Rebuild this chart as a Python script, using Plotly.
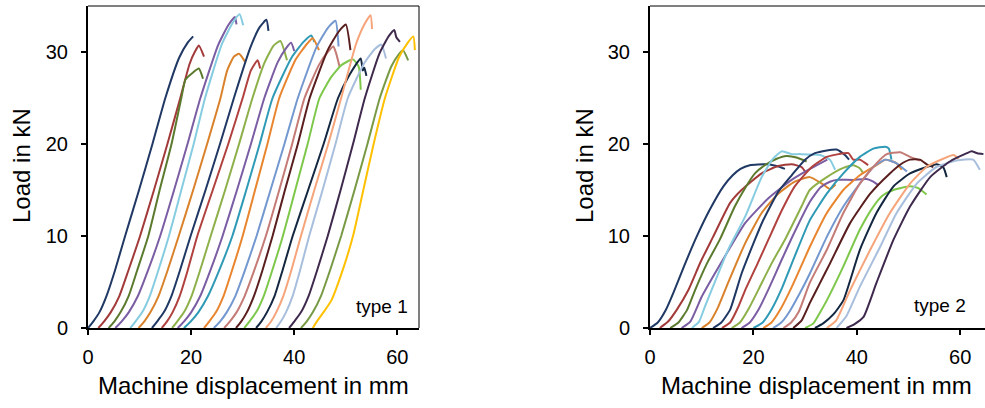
import plotly.graph_objects as go

# Load-displacement curves of the two specimen types.
# Each inner list is one test: machine displacement (mm) and load (kN).
type1_disp = [
    [0, 1.0, 2.2, 3.6, 5.2, 7.2, 9.9, 12.5, 15.0, 17.7, 19.3, 20.4],
    [2.0, 3.1, 4.4, 6.1, 7.8, 10.1, 12.8, 15.4, 17.9, 19.7, 20.8, 21.5, 22.5],
    [4.0, 5.1, 6.3, 7.9, 9.5, 11.7, 13.9, 16.2, 18.1, 18.9, 20.2, 21.5, 22.3],
    [5.3, 6.5, 7.9, 9.7, 11.6, 14.0, 16.7, 19.3, 21.8, 25.2, 27.2, 28.5, 28.8],
    [8.2, 9.2, 10.5, 12.0, 13.6, 15.7, 18.1, 20.5, 22.7, 26.0, 28.1, 29.4, 30.1],
    [9.8, 10.9, 12.1, 13.7, 15.4, 17.6, 20.4, 23.1, 25.7, 27.0, 28.3, 29.3, 30.5],
    [12.4, 13.4, 14.7, 16.2, 17.8, 19.9, 22.8, 25.6, 28.3, 31.5, 33.3, 34.6, 35.0],
    [14.3, 15.3, 16.4, 17.8, 19.3, 21.2, 24.2, 27.2, 30.0, 31.6, 32.9, 33.4],
    [16.3, 17.3, 18.6, 20.1, 21.7, 23.8, 26.6, 29.3, 31.9, 34.2, 36.0, 37.3, 38.6],
    [17.4, 18.6, 20.0, 21.8, 23.7, 26.1, 28.9, 31.6, 34.2, 36.8, 38.4, 39.4, 40.0],
    [18.6, 19.9, 21.4, 23.3, 25.4, 28.0, 30.7, 33.3, 35.8, 39.5, 41.8, 43.3, 43.9],
    [22.5, 23.5, 24.8, 26.3, 27.9, 30.0, 32.4, 34.8, 37.1, 40.3, 42.5, 43.6, 44.8],
    [24.4, 25.6, 26.9, 28.6, 30.4, 32.7, 35.4, 38.1, 40.7, 44.3, 46.5, 48.0, 48.6],
    [26.4, 27.5, 28.8, 30.4, 32.2, 34.5, 37.1, 39.6, 42.0, 44.8, 46.5, 47.6, 48.1, 48.8],
    [28.7, 29.7, 30.8, 32.2, 33.8, 35.8, 38.2, 40.7, 43.0, 46.5, 48.6, 50.0, 50.9],
    [30.3, 31.3, 32.6, 34.1, 35.7, 37.8, 40.2, 42.6, 44.9, 47.2, 49.2, 51.4, 52.5, 52.9],
    [32.6, 33.6, 34.7, 36.2, 37.7, 39.7, 42.7, 45.7, 48.5, 50.7, 52.9, 53.3, 53.6, 54.0],
    [34.5, 35.5, 36.5, 37.9, 39.4, 41.3, 43.9, 46.6, 49.1, 52.0, 53.7, 54.8, 55.1],
    [36.5, 37.4, 38.4, 39.7, 41.1, 42.9, 45.5, 48.0, 50.4, 53.6, 55.6, 56.9, 57.8],
    [39.0, 40.0, 41.3, 42.8, 44.4, 46.5, 49.0, 51.4, 53.7, 56.5, 58.3, 59.4, 59.8, 60.5],
    [41.3, 42.4, 43.6, 45.2, 46.9, 49.1, 51.7, 54.2, 56.6, 58.8, 60.2, 61.1, 62.1],
    [43.6, 44.5, 45.8, 47.2, 49.1, 51.4, 53.4, 55.4, 57.6, 60.3, 62.0, 63.1, 63.4],
]
type1_load = [
    [0, 0.7, 1.7, 3.5, 6.2, 10, 15, 20, 25, 29.4, 31.0, 31.7],
    [0, 0.7, 1.7, 3.5, 6.2, 10, 15, 20, 25, 28.7, 30.1, 30.7, 29.5],
    [0, 0.7, 1.7, 3.5, 6.2, 10, 15, 20, 25, 27.0, 27.7, 28.2, 27.1],
    [0, 0.7, 1.7, 3.5, 6.2, 10, 15, 20, 25, 30.7, 32.9, 33.8, 33.0],
    [0, 0.7, 1.7, 3.5, 6.2, 10, 15, 20, 25, 30.9, 33.2, 34.1, 32.9],
    [0, 0.7, 1.7, 3.5, 6.2, 10, 15, 20, 25, 28.0, 29.5, 29.8, 28.9],
    [0, 0.7, 1.7, 3.5, 6.2, 10, 15, 20, 25, 30.5, 32.7, 33.5, 32.3],
    [0, 0.7, 1.7, 3.5, 6.2, 10, 15, 20, 25, 28.0, 29.1, 28.2],
    [0, 0.7, 1.7, 3.5, 6.2, 10, 15, 20, 25, 28.8, 30.7, 31.2, 29.1],
    [0, 0.7, 1.7, 3.5, 6.2, 10, 15, 20, 25, 28.9, 30.4, 31.0, 30.1],
    [0, 0.7, 1.7, 3.5, 6.2, 10, 15, 20, 25, 29.4, 31.1, 31.8, 31.1],
    [0, 0.7, 1.7, 3.5, 6.2, 10, 15, 20, 25, 29.2, 30.9, 31.5, 30.2],
    [0, 0.7, 1.7, 3.5, 6.2, 10, 15, 20, 25, 30.5, 32.6, 33.4, 30.6],
    [0, 0.7, 1.7, 3.5, 6.2, 10, 15, 20, 25, 28.6, 30.0, 30.6, 29.9, 28.4],
    [0, 0.7, 1.7, 3.5, 6.2, 10, 15, 20, 25, 30.2, 32.2, 33.0, 30.2],
    [0, 0.7, 1.7, 3.5, 6.2, 10, 15, 20, 25, 27.3, 28.6, 29.2, 28.4, 25.9],
    [0, 0.7, 1.7, 3.5, 6.2, 10, 15, 20, 25, 27.5, 29.3, 28.0, 28.3, 27.4],
    [0, 0.7, 1.7, 3.5, 6.2, 10, 15, 20, 25, 30.9, 33.1, 34.0, 32.5],
    [0, 0.7, 1.7, 3.5, 6.2, 10, 15, 20, 25, 28.8, 30.3, 30.8, 29.3],
    [0, 0.7, 1.7, 3.5, 6.2, 10, 15, 20, 25, 29.8, 31.7, 32.4, 31.6, 31.1],
    [0, 0.7, 1.7, 3.5, 6.2, 10, 15, 20, 25, 28.4, 29.7, 30.2, 29.1],
    [0, 0.8, 1.8, 3.0, 5.8, 10, 15, 20, 25, 29.4, 31.0, 31.7, 30.2],
]

type2_disp = [
    [0, 1.5, 3.0, 4.5, 6.5, 9.0, 11.5, 14.2, 16.0, 17.5, 19.3, 22.5, 24.5, 26.1],
    [1.9, 3.5, 5.2, 7.4, 9.8, 12.2, 15.5, 17.7, 21.6, 24.8, 27.4, 29.3, 30.0],
    [3.9, 5.5, 7.2, 8.7, 11.0, 13.5, 16.4, 18.5, 20.3, 22.5, 24.5, 26.4, 28.5, 30.3],
    [6.1, 7.8, 10.0, 12.2, 14.5, 18.4, 22.9, 27.4, 31.3, 34.3],
    [8.1, 9.5, 10.6, 13.2, 15.1, 18.4, 21.6, 23.8, 25.5, 27.4, 29.0, 32.9, 34.8, 35.8],
    [10.0, 11.5, 13.2, 15.1, 18.4, 21.6, 24.8, 28.0, 30.9, 33.5, 34.8, 35.9],
    [12.2, 13.8, 15.5, 17.7, 20.3, 21.8, 24.8, 27.4, 30.0, 31.9, 34.2, 36.1, 37.7, 38.5],
    [13.9, 15.5, 17.0, 18.4, 20.8, 22.9, 25.5, 28.0, 31.3, 34.2, 36.5, 38.4, 39.3, 40.6, 42.2],
    [15.8, 17.4, 19.0, 21.0, 23.5, 26.1, 29.3, 30.9, 34.2, 37.4, 39.3, 40.5, 41.3],
    [17.7, 19.3, 21.0, 23.0, 25.3, 27.6, 30.9, 33.0, 34.8, 36.1, 39.3, 41.9, 43.2, 44.2],
    [20.0, 21.8, 23.5, 25.5, 28.0, 30.9, 34.2, 37.4, 40.6, 43.2, 45.5, 46.2, 46.7],
    [21.9, 23.5, 25.2, 27.2, 29.3, 30.9, 34.2, 37.4, 40.6, 43.8, 45.5, 47.7, 48.7],
    [23.8, 25.4, 27.0, 29.0, 30.9, 34.2, 37.4, 40.6, 43.2, 45.5, 47.7, 49.7],
    [25.8, 27.3, 28.8, 30.9, 34.2, 37.4, 40.6, 43.8, 45.8, 48.4, 50.3, 52.2],
    [27.7, 29.3, 30.9, 32.8, 34.8, 38.7, 42.6, 46.4, 48.5, 50.3, 52.2, 53.8, 54.8],
    [30.0, 31.6, 33.0, 34.2, 37.4, 40.6, 43.2, 45.0, 47.1, 50.3, 51.9, 53.5],
    [31.9, 33.5, 35.5, 37.4, 40.6, 43.8, 47.1, 50.3, 53.5, 55.4, 56.7, 57.4],
    [34.2, 36.0, 38.7, 42.6, 46.4, 50.3, 53.5, 56.7, 58.7, 59.7],
    [36.1, 38.0, 40.6, 44.5, 47.7, 51.6, 55.4, 59.3, 62.5, 63.8],
    [38.0, 39.5, 41.3, 43.8, 47.1, 50.3, 54.2, 58.0, 61.3, 62.2, 63.3, 64.5],
]
type2_load = [
    [0, 0.6, 1.9, 3.8, 6.6, 9.9, 12.8, 15.4, 16.6, 17.3, 17.7, 17.8, 17.6, 17.3],
    [0, 0.7, 2.0, 4.1, 7.2, 9.9, 13.6, 15.0, 16.8, 17.6, 17.8, 17.5, 17.0],
    [0, 0.6, 2.0, 4.1, 7.0, 9.6, 13.2, 15.3, 16.8, 17.8, 18.4, 18.7, 18.5, 18.1],
    [0, 0.7, 3.4, 5.6, 7.8, 11.4, 14.1, 16.1, 17.4, 18.3],
    [0, 0.7, 2.3, 5.9, 8.5, 12.1, 16.4, 18.4, 19.2, 18.9, 18.9, 18.8, 18.3, 17.2],
    [0, 0.6, 2.3, 4.9, 9.2, 12.5, 14.6, 15.9, 16.4, 15.6, 15.1, 15.6],
    [0, 0.6, 2.0, 5.9, 9.6, 11.6, 14.8, 16.6, 18.3, 19.0, 19.3, 19.4, 18.8, 18.3],
    [0, 0.6, 2.2, 4.1, 7.0, 9.6, 12.8, 15.4, 17.5, 18.6, 18.9, 19.0, 18.3, 18.3, 17.7],
    [0, 0.6, 2.0, 4.2, 7.0, 9.6, 13.2, 15.0, 16.4, 17.4, 17.7, 17.4, 16.8],
    [0, 0.6, 2.0, 4.3, 7.2, 10.0, 13.7, 15.3, 15.9, 16.1, 16.1, 16.2, 15.9, 15.5],
    [0, 0.6, 2.0, 4.3, 7.8, 11.7, 14.6, 16.8, 18.6, 19.5, 19.7, 19.5, 18.3],
    [0, 0.6, 2.0, 4.2, 6.8, 8.8, 12.5, 15.0, 16.6, 17.7, 18.3, 17.9, 17.2],
    [0, 0.6, 1.8, 3.8, 5.9, 9.9, 13.2, 15.7, 17.5, 18.3, 17.9, 17.0],
    [0, 0.6, 1.8, 4.9, 8.5, 12.5, 15.7, 17.9, 18.9, 19.1, 18.6, 18.2],
    [0, 0.8, 2.7, 4.8, 7.0, 11.4, 14.6, 16.8, 17.8, 18.3, 18.3, 17.7, 17.5],
    [0, 0.5, 1.8, 3.0, 6.7, 10.7, 13.2, 14.4, 15.0, 15.4, 15.2, 14.5],
    [0, 0.5, 1.5, 3.0, 8.5, 12.5, 15.4, 16.8, 17.5, 17.8, 17.5, 16.4],
    [0, 0.8, 4.1, 8.5, 12.5, 15.7, 17.5, 18.4, 18.8, 18.4],
    [0, 1.3, 4.5, 8.8, 12.5, 15.7, 17.5, 18.2, 18.3, 17.2],
    [0, 0.4, 1.2, 4.9, 9.6, 13.2, 16.4, 18.1, 19.0, 19.2, 19.0, 18.9],
]

# One colour per test, in the order the tests are listed
curve_colors = [
    "#203864", "#A33A3A", "#5B7A2E", "#7A5DA3", "#86CCE0", "#D9822B",
    "#203864", "#B0413E", "#8DB04A", "#7A5DA3", "#2F9AB5", "#E8852E",
    "#7398CF", "#C47B76", "#5A1E1E", "#7DC84A", "#132740", "#F6A47A",
    "#A8BEDD", "#3F2A4E", "#789A44", "#FFC000",
]

x_ticks = [0, 20, 40, 60]
y_ticks = [0, 10, 20, 30]
panel_labels = ["type 1", "type 2"]
x_title = "Machine displacement in mm"
y_title = "Load in kN"

W, H = 985, 408
FONT = "Arial, Liberation Sans, sans-serif"

fig = go.Figure()

for xs, ys, col in zip(type1_disp, type1_load, curve_colors):
    fig.add_trace(go.Scatter(x=xs, y=ys, mode="lines", xaxis="x", yaxis="y",
                             line=dict(color=col, width=2, shape="spline", smoothing=0.5),
                             showlegend=False, hoverinfo="skip"))
for xs, ys, col in zip(type2_disp, type2_load, curve_colors):
    fig.add_trace(go.Scatter(x=xs, y=ys, mode="lines", xaxis="x2", yaxis="y2",
                             line=dict(color=col, width=2, shape="spline", smoothing=0.5),
                             showlegend=False, hoverinfo="skip"))

# panel geometry in pixels
L1, R1 = 88, 419
L2, R2 = 650, 985
TOP, BOT = 6, 328

def px_x(p):
    return p / W

def px_y(p):
    return 1 - p / H

axis_common = dict(
    showgrid=False, zeroline=False, showline=True, linecolor="black", linewidth=2,
    ticks="outside", ticklen=5, tickwidth=1.5, tickcolor="black", automargin=False,
    tickfont=dict(family=FONT, size=20, color="black"),
)

fig.update_layout(
    width=W, height=H, autosize=False,
    margin=dict(l=0, r=0, t=0, b=0, pad=0),
    paper_bgcolor="white", plot_bgcolor="white",
    xaxis=dict(domain=[px_x(L1), px_x(R1)], range=[0, 64.2], tickvals=x_ticks,
               anchor="y", ticklabelstandoff=5, **axis_common),
    yaxis=dict(domain=[px_y(BOT), px_y(TOP)], range=[0, 35], tickvals=y_ticks,
               anchor="x", ticklabelstandoff=9, **axis_common),
    xaxis2=dict(domain=[px_x(L2), px_x(R2)], range=[0, 64.8], tickvals=x_ticks,
                anchor="y2", ticklabelstandoff=5, **axis_common),
    yaxis2=dict(domain=[px_y(BOT), px_y(TOP)], range=[0, 35], tickvals=y_ticks,
                anchor="x2", ticklabelstandoff=9, **axis_common),
)

# thin frame lines on the top (both panels) and right (left panel)
fig.add_shape(type="line", xref="paper", yref="paper", x0=px_x(L1), x1=px_x(R1),
              y0=px_y(TOP), y1=px_y(TOP), line=dict(color="black", width=1))
fig.add_shape(type="line", xref="paper", yref="paper", x0=px_x(R1), x1=px_x(R1),
              y0=px_y(BOT), y1=px_y(TOP), line=dict(color="black", width=1))
fig.add_shape(type="line", xref="paper", yref="paper", x0=px_x(L2), x1=px_x(R2),
              y0=px_y(TOP), y1=px_y(TOP), line=dict(color="black", width=1))

title_font = dict(family=FONT, size=24, color="black")
for xc in [254, 816]:
    fig.add_annotation(text=x_title, xref="paper", yref="paper", x=px_x(xc), y=px_y(385),
                       showarrow=False, font=title_font, xanchor="center", yanchor="middle")
for xc in [21, 584]:
    fig.add_annotation(text=y_title, xref="paper", yref="paper", x=px_x(xc), y=px_y(166),
                       showarrow=False, font=title_font, textangle=-90,
                       xanchor="center", yanchor="middle")
for (xc, yc), lab in zip([(382, 306), (940, 305)], panel_labels):
    fig.add_annotation(text=lab, xref="paper", yref="paper", x=px_x(xc), y=px_y(yc),
                       showarrow=False, font=dict(family=FONT, size=19, color="black"),
                       xanchor="center", yanchor="middle")

fig.write_html("out.html")
